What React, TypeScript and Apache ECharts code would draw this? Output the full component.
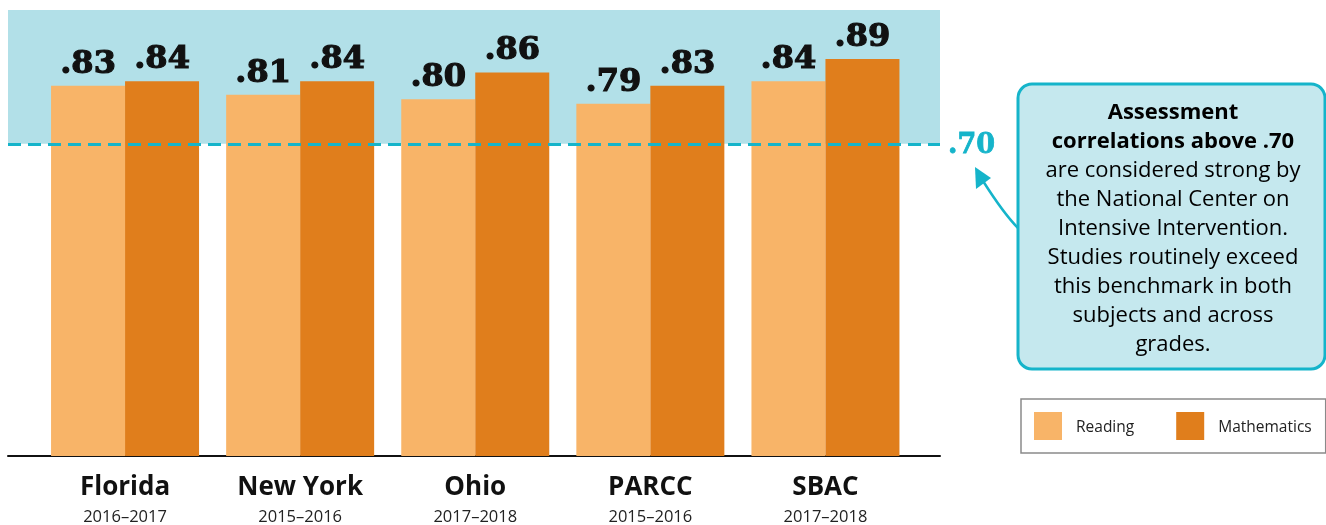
import React, { useEffect, useRef } from "react";
import * as echarts from "echarts";

const categories = ["Florida", "New York", "Ohio", "PARCC", "SBAC"];
const years = ["2016–2017", "2015–2016", "2017–2018", "2015–2016", "2017–2018"];
const reading = [0.83, 0.81, 0.8, 0.79, 0.84];
const mathematics = [0.84, 0.84, 0.86, 0.83, 0.89];
const benchmark = 0.7;
const calloutBold = ["Assessment", "correlations above .70"];
const calloutText = [
  "are considered strong by",
  "the National Center on",
  "Intensive Intervention.",
  "Studies routinely exceed",
  "this benchmark in both",
  "subjects and across",
  "grades.",
];

const READ_COLOR = "#f8b468";
const MATH_COLOR = "#e07e1c";
const TEAL = "#15b4ca";
const TEAL_AREA = "#b2e0e8";
const SANS = '"Open Sans", "Noto Sans", sans-serif';
const SLAB = '"DejaVu Serif", serif';

const fmt = (v: number) => v.toFixed(2).replace(/^0/, "");

export default function App() {
  const ref = useRef<HTMLDivElement>(null);
  useEffect(() => {
    if (!ref.current) return;
    const chart = echarts.init(ref.current, null, { renderer: "svg" });
    const barLabel = {
      show: true,
      position: "top",
      distance: 8,
      formatter: (p: any) => fmt(p.value),
      color: "#111",
      fontFamily: SLAB,
      fontWeight: "bold",
      fontSize: 32,
      textBorderColor: "#111",
      textBorderWidth: 1.2,
    };
    const calloutRich =
      calloutBold.map((s) => `{b|${s}}`).join("\n") +
      "\n" +
      calloutText.map((s) => `{r|${s}}`).join("\n");
    chart.setOption({
      animation: false,
      legend: {
        data: ["Reading", "Mathematics"],
        left: 1021,
        top: 399,
        padding: [13, 14, 13, 13],
        borderColor: "#8a8a8a",
        borderWidth: 1.5,
        icon: "rect",
        itemWidth: 28,
        itemHeight: 28,
        itemGap: 42,
        selectedMode: false,
        textStyle: {
          fontFamily: SANS,
          fontSize: 15.5,
          color: "#222",
          padding: [0, 0, 0, 9],
        },
      },
      grid: [
        { left: 37.5, right: 413, top: 10, bottom: 69 },
        { left: 8, right: 386, top: 10, bottom: 69 },
      ],
      xAxis: [
        {
          type: "category",
          gridIndex: 0,
          data: categories,
          axisLine: { show: false },
          axisTick: { show: false },
          axisLabel: {
            margin: 14,
            formatter: (v: string, i: number) => `{a|${v}}\n{b|${years[i]}}`,
            rich: {
              a: {
                fontFamily: SANS,
                fontWeight: "bold",
                fontSize: 26,
                lineHeight: 30,
                color: "#111",
              },
              b: {
                fontFamily: SANS,
                fontSize: 16.5,
                lineHeight: 30,
                color: "#222",
              },
            },
          },
        },
        {
          type: "value",
          gridIndex: 1,
          min: 0,
          max: 1,
          axisLine: { show: true, onZero: false, lineStyle: { color: "#111", width: 2 } },
          axisTick: { show: false },
          axisLabel: { show: false },
          splitLine: { show: false },
        },
      ],
      yAxis: [
        { type: "value", gridIndex: 0, min: 0, max: 1, show: false, splitLine: { show: false } },
        { type: "value", gridIndex: 1, min: 0, max: 1, show: false, splitLine: { show: false } },
      ],
      series: [
        {
          name: "benchmark-area",
          type: "line",
          xAxisIndex: 1,
          yAxisIndex: 1,
          data: [[0.5, 0.5]],
          symbol: "none",
          lineStyle: { opacity: 0 },
          silent: true,
          z: 0,
          markArea: {
            silent: true,
            itemStyle: { color: TEAL_AREA },
            data: [[{ yAxis: benchmark }, { yAxis: 1 }]],
          },
        },
        {
          name: "Reading",
          type: "bar",
          xAxisIndex: 0,
          yAxisIndex: 0,
          data: reading,
          barWidth: 74,
          barGap: "0%",
          itemStyle: { color: READ_COLOR },
          label: barLabel,
          z: 2,
        },
        {
          name: "Mathematics",
          type: "bar",
          xAxisIndex: 0,
          yAxisIndex: 0,
          data: mathematics,
          barWidth: 74,
          barGap: "0%",
          itemStyle: { color: MATH_COLOR },
          label: barLabel,
          z: 2,
        },
        {
          name: "benchmark-line",
          type: "line",
          xAxisIndex: 1,
          yAxisIndex: 1,
          data: [[0.5, 0.5]],
          symbol: "none",
          lineStyle: { opacity: 0 },
          silent: true,
          z: 5,
          markLine: {
            silent: true,
            symbol: ["none", "none"],
            lineStyle: { color: TEAL, width: 3, type: [13, 7] },
            label: {
              show: true,
              position: "end",
              distance: 8,
              formatter: fmt(benchmark),
              color: TEAL,
              fontFamily: SLAB,
              fontWeight: "bold",
              fontSize: 27,
              textBorderColor: TEAL,
              textBorderWidth: 0.8,
            },
            data: [{ yAxis: benchmark }],
          },
        },
      ],
      graphic: [
        {
          type: "rect",
          shape: { x: 1018, y: 84, width: 307, height: 285, r: 14 },
          style: { fill: "#c5e8ee", stroke: TEAL, lineWidth: 3 },
          z: 10,
        },
        {
          type: "text",
          x: 1173,
          y: 95,
          z: 11,
          style: {
            text: calloutRich,
            align: "center",
            verticalAlign: "top",
            rich: {
              b: { fontFamily: SANS, fontWeight: "bold", fontSize: 22, lineHeight: 29, color: "#111", align: "center" },
              r: { fontFamily: SANS, fontSize: 22, lineHeight: 29, color: "#111", align: "center" },
            },
          },
        },
        {
          type: "bezierCurve",
          shape: { x1: 1018, y1: 228, x2: 983, y2: 181, cpx1: 1004, cpy1: 214 },
          style: { stroke: TEAL, lineWidth: 2.5, fill: "none" },
          z: 9,
        },
        {
          type: "polygon",
          shape: { points: [[975, 167], [976, 189], [991, 178]] },
          style: { fill: TEAL },
          z: 9,
        },
      ],
    });
    return () => chart.dispose();
  }, []);
  return (
    <div
      ref={ref}
      style={{ position: "fixed", left: 0, top: 0, width: 1326, height: 525 }}
    />
  );
}
